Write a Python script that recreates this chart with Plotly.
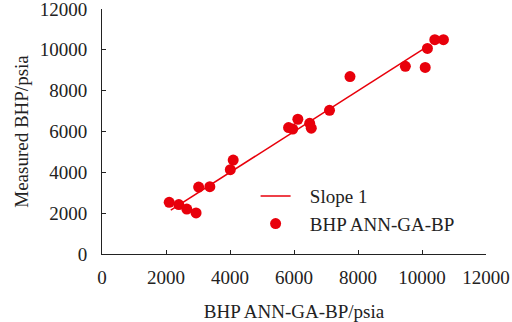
import plotly.graph_objects as go

pred = [2100, 2400, 2650, 2940, 3020, 3370, 4010, 4100, 5830, 5960, 6120, 6490, 6540, 7110, 7750, 9480, 10100, 10170, 10400, 10670]
meas = [2530, 2420, 2200, 2010, 3280, 3300, 4130, 4600, 6190, 6120, 6600, 6400, 6160, 7040, 8690, 9190, 9140, 10070, 10500, 10500]
line_x = [2150, 10100]
line_y = [2150, 10100]
ticks = [0, 2000, 4000, 6000, 8000, 10000, 12000]
pad = "\u00a0\u00a0\u00a0"

red = "#e8000b"
fig = go.Figure()
fig.add_trace(go.Scatter(x=line_x, y=line_y, mode="lines", name=pad + "Slope 1",
                         line=dict(color=red, width=1.5)))
fig.add_trace(go.Scatter(x=pred, y=meas, mode="markers", name=pad + "BHP ANN-GA-BP",
                         marker=dict(color=red, size=11)))

font = dict(family="Liberation Serif", size=19, color="#222")
axis_common = dict(range=[0, 12000], tickvals=ticks, ticktext=[str(t) for t in ticks],
                   showgrid=False, zeroline=False, showline=True, linecolor="#222", linewidth=1,
                   ticks="inside", ticklen=4, tickcolor="#222", tickfont=font, automargin=False,
                   ticklabeloverflow="allow")
fig.update_layout(
    width=512, height=322,
    margin=dict(l=102, r=26, t=9, b=68),
    paper_bgcolor="white", plot_bgcolor="white",
    font=font,
    showlegend=True,
    legend=dict(x=0.40, y=0.314, xanchor="left", yanchor="top", bgcolor="rgba(0,0,0,0)",
                font=font, tracegroupgap=4),
    xaxis=dict(**axis_common, title=dict(text="BHP ANN-GA-BP/psia", font=font, standoff=17), ticklabelstandoff=6),
    yaxis=dict(**axis_common, title=dict(text="Measured BHP/psia", font=font, standoff=6), ticklabelstandoff=10),
)
fig.write_html("out.html", config={"displayModeBar": False},
               post_script="document.body.style.margin='0';")
